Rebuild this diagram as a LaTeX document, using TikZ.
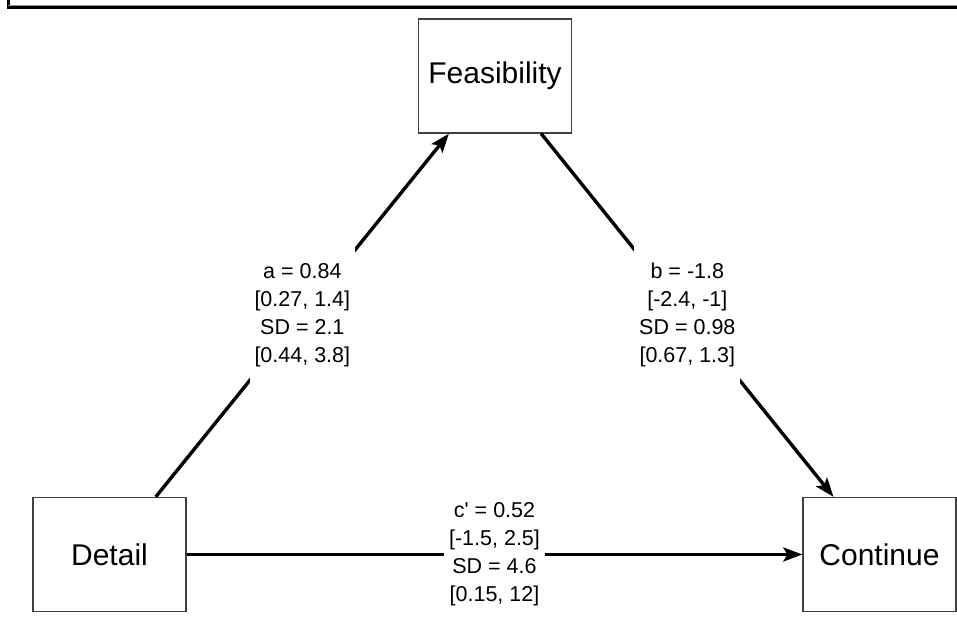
\documentclass[tikz,border=0pt]{standalone}
\usepackage{fontspec}
\setmainfont{Liberation Sans}
\newfontfamily\labfont{Liberation Sans}
\usetikzlibrary{arrows.meta}
\begin{document}
\begin{tikzpicture}[x=1pt,y=1pt,
  varbox/.style={draw=black!75, line width=1.3pt, minimum width=153pt, minimum height=114pt,
    inner sep=0pt, font=\labfont\fontsize{30}{34}\selectfont},
  path/.style={line width=3.4pt, -{Stealth[length=19pt,width=14pt,inset=4pt]}},
  coef/.style={fill=white, align=center, inner xsep=5pt, inner ysep=17pt,
    font=\labfont\fontsize{21.5}{28}\selectfont}]
\useasboundingbox (0,0) rectangle (957,618);
% frame (top and left edges only)
\draw[line width=3pt] (8,618) -- (8,610) -- (957,610);
\draw[black!45, line width=1pt] (8,612) -- (957,612);
% variables
\node[varbox] (F) at (495,542) {Feasibility};
\node[varbox] (D) at (109.5,63.5) {Detail};
\node[varbox] (C) at (879.5,63.5) {Continue};
% paths
\draw[path] (D) -- node[coef] {a = 0.84\\{}[0.27, 1.4]\\SD = 2.1\\{}[0.44, 3.8]} (F);
\draw[path] (F) -- node[coef] {b = -1.8\\{}[-2.4, -1]\\SD = 0.98\\{}[0.67, 1.3]} (C);
\draw[path] (D) -- node[coef] {c' = 0.52\\{}[-1.5, 2.5]\\SD = 4.6\\{}[0.15, 12]} (C);
\end{tikzpicture}
\end{document}
